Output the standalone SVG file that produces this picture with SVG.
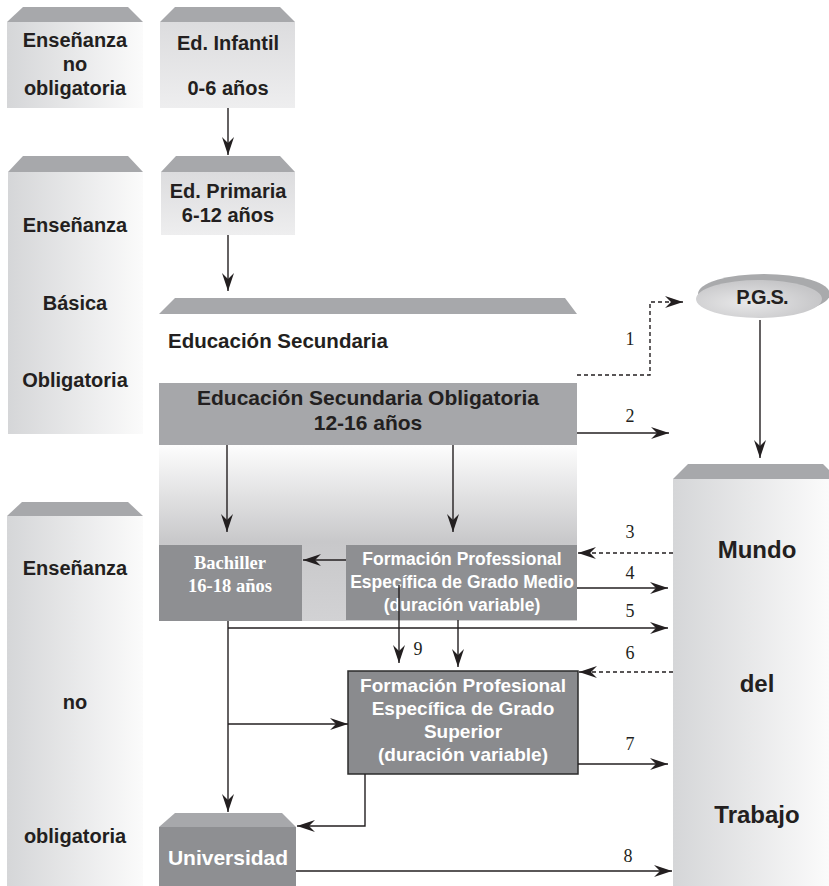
<svg xmlns="http://www.w3.org/2000/svg" width="829" height="886" viewBox="0 0 829 886">
<defs>
<linearGradient id="gH" x1="0" y1="0" x2="1" y2="0">
<stop offset="0" stop-color="#d5d6d8"/>
<stop offset="1" stop-color="#fbfbfb"/>
</linearGradient>
<linearGradient id="gV" x1="0" y1="0" x2="0" y2="1">
<stop offset="0" stop-color="#dcdcde"/>
<stop offset="1" stop-color="#eeeeef"/>
</linearGradient>
<linearGradient id="gSec" x1="0" y1="0" x2="0" y2="1">
<stop offset="0" stop-color="#fdfdfd"/>
<stop offset="0.55" stop-color="#c8c8ca"/>
<stop offset="1" stop-color="#d2d2d4"/>
</linearGradient>
<radialGradient id="gPgs" cx="0.4" cy="0.6" r="0.6">
<stop offset="0" stop-color="#e8e8e9"/>
<stop offset="1" stop-color="#c6c6c8"/>
</radialGradient>
<marker id="ah" markerUnits="userSpaceOnUse" markerWidth="18" markerHeight="12" refX="18" refY="6" orient="auto">
<path d="M0,0 L18,6 L0,12 L6,6 z" fill="#231f20"/>
</marker>
</defs>
<style>
.top{fill:#a7a8ab}
.hd{font-family:"Liberation Sans",Arial,sans-serif;font-weight:bold;fill:#231f20;text-anchor:middle}
.wt{font-family:"Liberation Sans",Arial,sans-serif;font-weight:bold;fill:#ffffff;text-anchor:middle}
.num{font-family:"Liberation Serif","Times New Roman",serif;font-size:18px;fill:#231f20;text-anchor:middle}
.ln{fill:none;stroke:#231f20;stroke-width:1.4;marker-end:url(#ah)}
.dl{fill:none;stroke:#231f20;stroke-width:1.4;stroke-dasharray:4,3;marker-end:url(#ah)}
.dark{fill:#8e8f92}
</style>

<g id="ens-no-oblig-1">
<polygon class="top" points="7,22 23,7 128,7 143,22"/>
<rect x="7" y="22" width="136" height="86" fill="url(#gH)"/>
<text class="hd" x="75" y="47" font-size="20">Enseñanza</text>
<text class="hd" x="75" y="71" font-size="20">no</text>
<text class="hd" x="75" y="95" font-size="20">obligatoria</text>
</g>

<g id="ed-infantil">
<polygon class="top" points="160,22 175,7 280,7 295,22"/>
<rect x="160" y="22" width="135" height="86" fill="url(#gV)"/>
<text class="hd" x="228" y="50" font-size="20">Ed. Infantil</text>
<text class="hd" x="228" y="95" font-size="20">0-6 años</text>
</g>

<g id="ens-basica">
<polygon class="top" points="8,172 23,156 128,156 143,172"/>
<rect x="8" y="172" width="135" height="262" fill="url(#gH)"/>
<text class="hd" x="75" y="232" font-size="20">Enseñanza</text>
<text class="hd" x="75" y="310" font-size="20">Básica</text>
<text class="hd" x="75" y="387" font-size="20">Obligatoria</text>
</g>

<g id="ed-primaria">
<polygon class="top" points="161,172 176,156 280,156 295,172"/>
<rect x="161" y="172" width="134" height="63" fill="url(#gV)"/>
<text class="hd" x="228" y="198" font-size="20">Ed. Primaria</text>
<text class="hd" x="228" y="222" font-size="20">6-12 años</text>
</g>

<g id="ed-secundaria">
<polygon class="top" points="159,314 175,298 565,298 577,314"/>
<rect x="159" y="314" width="418" height="69" fill="#ffffff"/>
<rect x="159" y="445" width="418" height="176" fill="url(#gSec)"/>
<text class="hd" x="168" y="348" font-size="20.5" style="text-anchor:start">Educación Secundaria</text>
</g>

<g id="eso">
<rect x="159" y="383" width="418" height="62" fill="#a6a7aa"/>
<text class="hd" x="368" y="405" font-size="21">Educación Secundaria Obligatoria</text>
<text class="hd" x="368" y="430" font-size="21">12-16 años</text>
</g>

<g id="bachiller">
<rect class="dark" x="159" y="545" width="143" height="76"/>
<text x="230" y="569" font-family="'Liberation Serif','Times New Roman',serif" font-weight="bold" font-size="18.5" fill="#ffffff" text-anchor="middle">Bachiller</text>
<text x="230" y="592" font-family="'Liberation Serif','Times New Roman',serif" font-weight="bold" font-size="18.5" fill="#ffffff" text-anchor="middle">16-18 años</text>
</g>

<g id="fp-medio">
<rect class="dark" x="346" y="545" width="231" height="75"/>
<text class="wt" x="462" y="565" font-size="17.5">Formación Professional</text>
<text class="wt" x="462" y="588" font-size="17.5">Específica de Grado Medio</text>
<text class="wt" x="462" y="611" font-size="17.5">(duración variable)</text>
</g>

<g id="fp-superior">
<rect x="348" y="671" width="230" height="103" fill="#8a8b8e" stroke="#2b2b2b" stroke-width="1.5"/>
<text class="wt" x="463" y="692" font-size="19">Formación Profesional</text>
<text class="wt" x="463" y="715" font-size="19">Específica de Grado</text>
<text class="wt" x="463" y="738" font-size="19">Superior</text>
<text class="wt" x="463" y="761" font-size="19">(duración variable)</text>
</g>

<g id="universidad">
<polygon class="top" points="159,827 175,813 282,813 296,827"/>
<rect class="dark" x="159" y="827" width="137" height="59"/>
<text class="wt" x="228" y="865" font-size="21">Universidad</text>
</g>

<g id="ens-no-oblig-2">
<polygon class="top" points="7,516 22,502 128,502 143,516"/>
<rect x="7" y="516" width="136" height="370" fill="url(#gH)"/>
<text class="hd" x="75" y="575" font-size="20">Enseñanza</text>
<text class="hd" x="75" y="709" font-size="20">no</text>
<text class="hd" x="75" y="843" font-size="20">obligatoria</text>
</g>

<g id="pgs">
<ellipse cx="764" cy="294" rx="66" ry="20" fill="#a9aaac"/>
<ellipse cx="759" cy="299" rx="63" ry="19" fill="url(#gPgs)"/>
<text class="hd" x="762" y="304" font-size="20" letter-spacing="-0.8">P.G.S.</text>
</g>

<g id="mundo">
<polygon class="top" points="673,479 688,464 823,464 838,479"/>
<rect x="673" y="479" width="156" height="407" fill="url(#gH)"/>
<text class="hd" x="757" y="558" font-size="24">Mundo</text>
<text class="hd" x="757" y="692" font-size="24">del</text>
<text class="hd" x="757" y="823" font-size="24">Trabajo</text>
</g>

<g id="connectors">
<path class="ln" d="M228,108 V155"/>
<path class="ln" d="M228,235 V291"/>
<path class="dl" d="M577,375 H650 V302 H683"/>
<path class="ln" d="M577,433 H669"/>
<path class="ln" d="M760,320 V458"/>
<path class="ln" d="M227,445 V532"/>
<path class="ln" d="M453,445 V532"/>
<path class="ln" d="M346,560 H303"/>
<path class="dl" d="M673,553 H578"/>
<path class="ln" d="M577,588 H668"/>
<path class="ln" d="M228,621 V812"/>
<path class="ln" d="M228,628 H668"/>
<path class="ln" d="M399,585 V663"/>
<path class="ln" d="M458,620 V667"/>
<path class="dl" d="M673,672 H579"/>
<path class="ln" d="M228,724 H348"/>
<path class="ln" d="M578,764 H668"/>
<path class="ln" d="M365,774 V826 H297"/>
<path class="ln" d="M296,871 H672"/>
<text class="num" x="630" y="345">1</text>
<text class="num" x="630" y="422">2</text>
<text class="num" x="630" y="538">3</text>
<text class="num" x="630" y="579">4</text>
<text class="num" x="630" y="617">5</text>
<text class="num" x="630" y="659">6</text>
<text class="num" x="630" y="750">7</text>
<text class="num" x="628" y="862">8</text>
<text class="num" x="418" y="655">9</text>
</g>
</svg>
